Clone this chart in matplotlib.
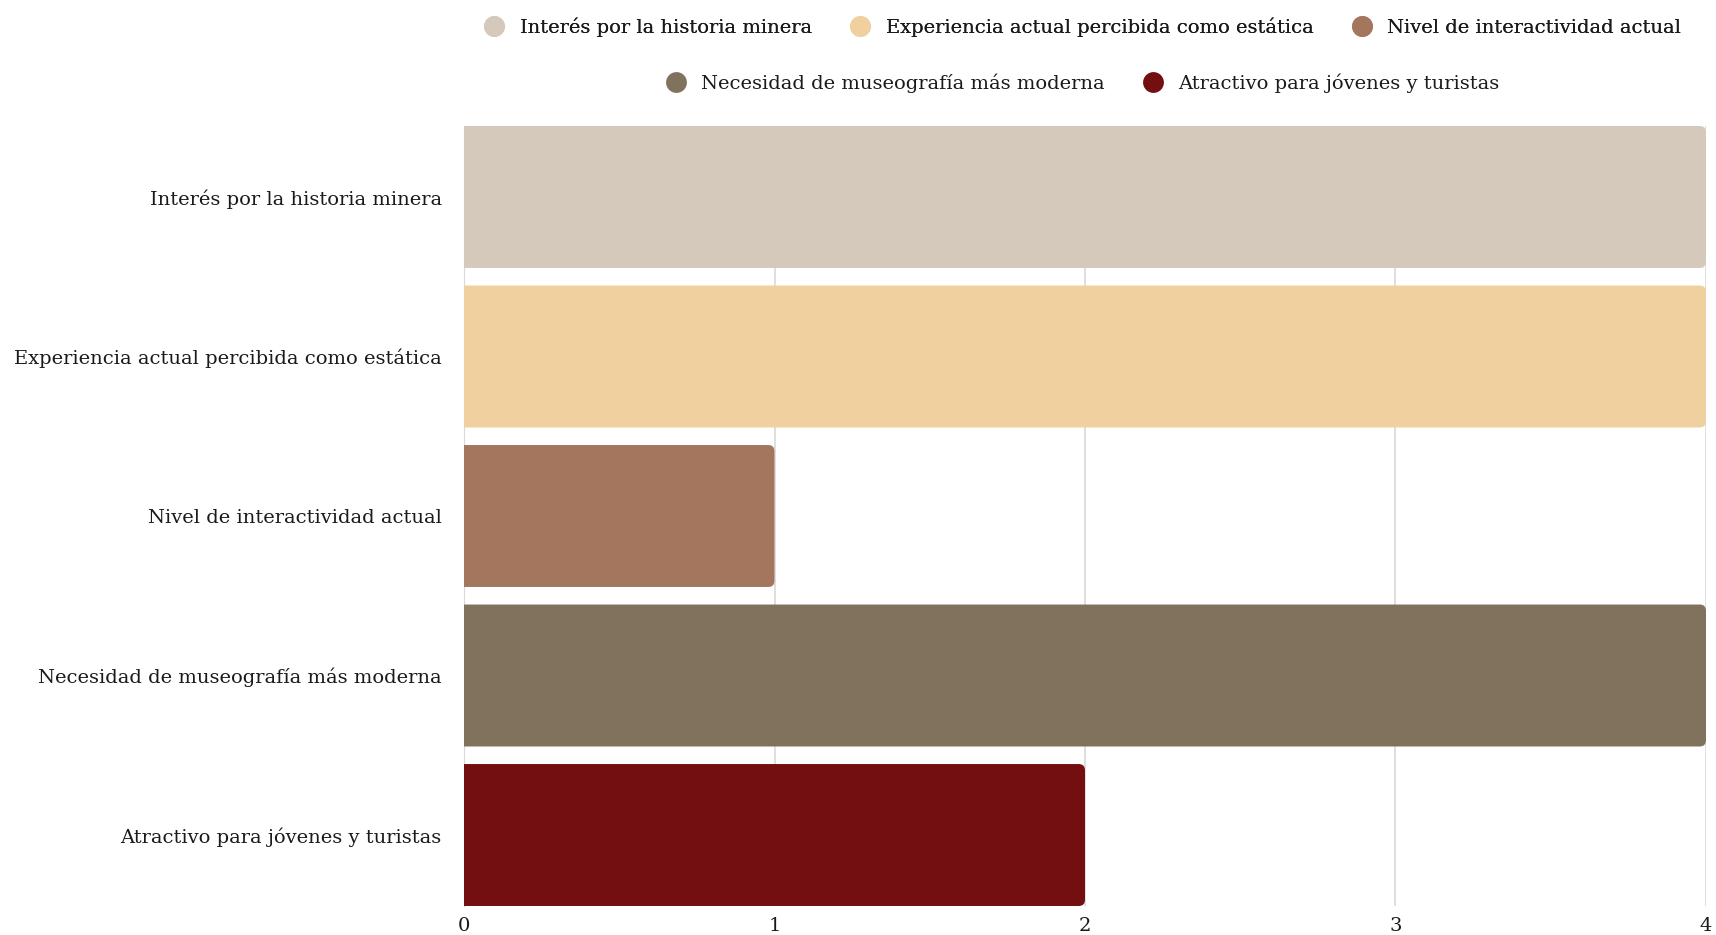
import matplotlib.pyplot as plt
from matplotlib.patches import FancyBboxPatch
from matplotlib.lines import Line2D

# Datos
categorias = ['Interés por la historia minera',
              'Experiencia actual percibida como estática',
              'Nivel de interactividad actual',
              'Necesidad de museografía más moderna',
              'Atractivo para jóvenes y turistas']
valores = [4, 4, 1, 4, 2]
colores = ['#D5C9BC', '#F0D09E', '#A4765E', '#80725D', '#730F10']

plt.rcParams['font.family'] = ['DejaVu Serif']

fig = plt.figure(figsize=(17.16, 9.35), dpi=100)
ax = fig.add_axes([464 / 1716, 1 - 906 / 935, (1706 - 464) / 1716, (906 - 126) / 935])

alto = 0.89
for i, (v, c) in enumerate(zip(valores, colores)):
    caja = FancyBboxPatch((-0.1, i - alto / 2), v + 0.1, alto,
                          boxstyle='round,pad=0,rounding_size=0.02',
                          mutation_aspect=2.0, facecolor=c, edgecolor='none',
                          zorder=3, clip_on=True)
    ax.add_patch(caja)

ax.set_xlim(0, 4)
ax.set_ylim(len(categorias) - 1 + alto / 2, -alto / 2)
ax.set_yticks(range(len(categorias)))
ax.set_yticklabels(categorias, fontsize=14, color='#1a1a1a')
ax.set_xticks([0, 1, 2, 3, 4])
ax.set_xticklabels(['0', '1', '2', '3', '4'], fontsize=14, color='#1a1a1a')
ax.tick_params(axis='y', length=0, pad=16)
ax.tick_params(axis='x', length=0, pad=8)
ax.grid(axis='x', color='#d9d9d9', linewidth=1.2, zorder=0)
for lado in ['top', 'right', 'bottom']:
    ax.spines[lado].set_visible(False)
ax.spines['left'].set_color('#d9d9d9')

def marcador(c):
    return Line2D([], [], marker='o', linestyle='none', markersize=15,
                  markerfacecolor=c, markeredgecolor='none')

fila1 = fig.legend([marcador(c) for c in colores[:3]], categorias[:3],
                   loc='center', bbox_to_anchor=(1078 / 1716, 1 - 27 / 935),
                   ncol=3, frameon=False, fontsize=14, handletextpad=0.3,
                   columnspacing=1.5, labelcolor='#1a1a1a')
fig.add_artist(fila1)
fig.legend([marcador(c) for c in colores[3:]], categorias[3:],
           loc='center', bbox_to_anchor=(1078 / 1716, 1 - 83 / 935),
           ncol=2, frameon=False, fontsize=14, handletextpad=0.3,
           columnspacing=1.5, labelcolor='#1a1a1a')

plt.savefig('out.png', dpi=100)
